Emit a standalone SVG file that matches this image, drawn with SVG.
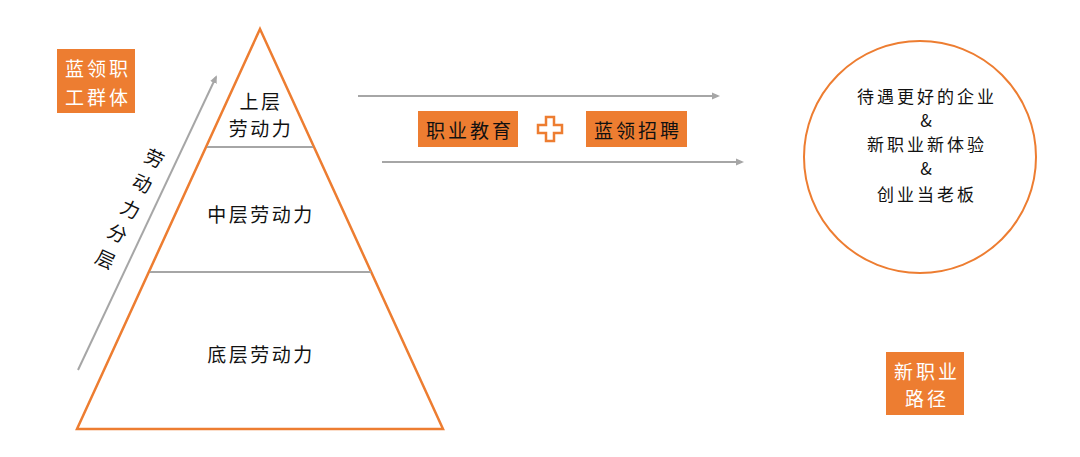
<svg xmlns="http://www.w3.org/2000/svg" width="1080" height="457" viewBox="0 0 1080 457">
<style>
text{font-family:"Noto Sans CJK SC","Noto Sans",sans-serif;text-anchor:middle;dominant-baseline:central}
.d{fill:#111111;font-size:19px;letter-spacing:2.5px}
.w{fill:#ffffff;font-size:19px;letter-spacing:3px}
.c{fill:#111111;font-size:17px;letter-spacing:3px}
.box{fill:#ED7D31}
.gl{stroke:#A6A6A6;stroke-width:2;fill:none}
</style>
<defs>
<marker id="ah" markerWidth="8" markerHeight="8" refX="6" refY="4" orient="auto" markerUnits="userSpaceOnUse">
<path d="M0,0.5 L8,4 L0,7.5 Z" fill="#A6A6A6"/>
</marker>
</defs>
<rect width="1080" height="457" fill="#ffffff"/>
<g id="connectors">
<line class="gl" x1="78" y1="370" x2="216" y2="77" marker-end="url(#ah)"/>
<line class="gl" x1="358" y1="96" x2="718" y2="96" marker-end="url(#ah)"/>
<line class="gl" x1="382" y1="162" x2="742" y2="162" marker-end="url(#ah)"/>
</g>
<g id="pyramid">
<polygon points="260,29 443,429 77,429" fill="#ffffff" stroke="#ED7D31" stroke-width="2.5"/>
<line x1="207" y1="147" x2="313" y2="147" stroke="#A6A6A6" stroke-width="2"/>
<line x1="150" y1="272" x2="371" y2="272" stroke="#A6A6A6" stroke-width="2"/>
</g>
<g id="upper"><text class="d" x="261" y="100">上层</text><text class="d" x="261" y="127">劳动力</text></g>
<g id="middle"><text class="d" x="261" y="213">中层劳动力</text></g>
<g id="bottom"><text class="d" x="261" y="353">底层劳动力</text></g>
<g id="axis-label">
<text class="d" style="letter-spacing:0" transform="translate(155,157) rotate(25)">劳</text>
<text class="d" style="letter-spacing:0" transform="translate(143,182) rotate(25)">动</text>
<text class="d" style="letter-spacing:0" transform="translate(131,208) rotate(25)">力</text>
<text class="d" style="letter-spacing:0" transform="translate(118,232) rotate(25)">分</text>
<text class="d" style="letter-spacing:0" transform="translate(106,258) rotate(25)">层</text>
</g>
<g id="blue-collar">
<rect class="box" x="57" y="49" width="78" height="64"/>
<text class="w" x="98" y="67">蓝领职</text>
<text class="w" x="98" y="96">工群体</text>
</g>
<g id="education">
<rect class="box" x="418" y="111" width="100" height="36"/>
<text class="d" x="470" y="129" style="letter-spacing:3px">职业教育</text>
</g>
<g id="plus">
<path d="M546,117 h8 v8 h8 v8 h-8 v8 h-8 v-8 h-8 v-8 h8 Z" fill="#ffffff" stroke="#ED7D31" stroke-width="2.5"/>
</g>
<g id="recruit">
<rect class="box" x="586" y="111" width="101" height="36"/>
<text class="d" x="638" y="129" style="letter-spacing:3px">蓝领招聘</text>
</g>
<g id="circle">
<circle cx="920" cy="157" r="116" fill="#ffffff" stroke="#ED7D31" stroke-width="2"/>
<text class="c" x="927" y="95">待遇更好的企业</text>
<text class="c" x="926" y="119" style="letter-spacing:0">&amp;</text>
<text class="c" x="927" y="143">新职业新体验</text>
<text class="c" x="926" y="167" style="letter-spacing:0">&amp;</text>
<text class="c" x="927" y="193">创业当老板</text>
</g>
<g id="new-path">
<rect class="box" x="886" y="352" width="78" height="63"/>
<text class="w" x="927" y="370">新职业</text>
<text class="w" x="927" y="397">路径</text>
</g>
</svg>
